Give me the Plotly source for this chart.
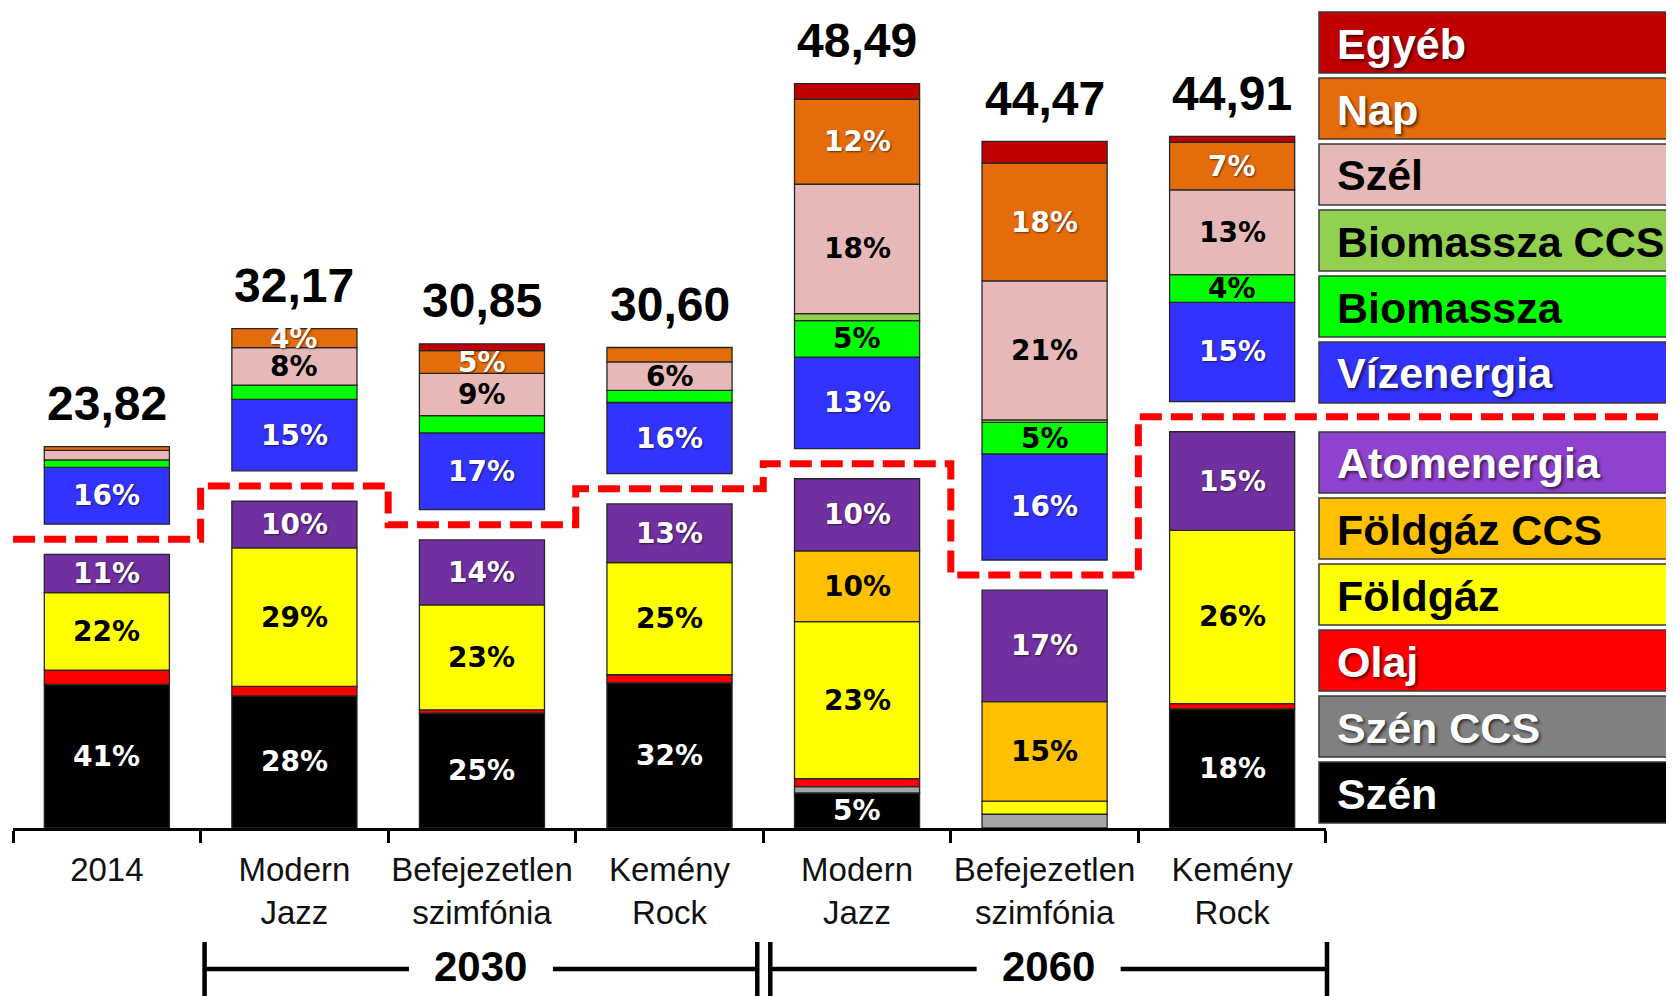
import plotly.graph_objects as go

# ---------------- data ----------------
categories = ["2014", "Modern<br>Jazz", "Befejezetlen<br>szimfónia", "Kemény<br>Rock",
              "Modern<br>Jazz", "Befejezetlen<br>szimfónia", "Kemény<br>Rock"]
totals = [23.82, 32.17, 30.85, 30.60, 48.49, 44.47, 44.91]
period_labels = ["2030", "2060"]

# shares of each bar total, in % (as drawn)
szen          = [40.9, 27.9, 25.3, 32.2, 4.9, 0.0, 18.0]
szen_ccs      = [0.0, 0.0, 0.0, 0.0, 0.9, 2.1, 0.0]
olaj          = [4.1, 2.0, 0.7, 1.8, 1.1, 0.0, 0.8]
foldgaz       = [22.1, 29.2, 23.1, 24.9, 22.0, 2.0, 26.2]
foldgaz_ccs   = [0.0, 0.0, 0.0, 0.0, 9.9, 15.2, 0.0]
atomenergia   = [10.9, 9.9, 14.3, 13.0, 10.1, 17.0, 14.9]
vizenergia    = [16.2, 15.1, 16.9, 15.8, 12.8, 16.2, 15.0]
biomassza     = [2.1, 3.0, 3.8, 2.7, 5.1, 4.8, 4.2]
biomassza_ccs = [0.0, 0.0, 0.0, 0.0, 1.0, 0.4, 0.0]
szel          = [2.7, 7.9, 9.3, 6.3, 18.1, 21.2, 12.8]
nap           = [1.1, 4.0, 5.0, 3.2, 11.9, 18.0, 7.2]
egyeb         = [0.0, 0.0, 1.5, 0.0, 2.2, 3.3, 0.9]

# printed percentage labels
szen_lbl        = ["41%", "28%", "25%", "32%", "5%", "", "18%"]
foldgaz_lbl     = ["22%", "29%", "23%", "25%", "23%", "", "26%"]
foldgaz_ccs_lbl = ["", "", "", "", "10%", "15%", ""]
atom_lbl        = ["11%", "10%", "14%", "13%", "10%", "17%", "15%"]
viz_lbl         = ["16%", "15%", "17%", "16%", "13%", "16%", "15%"]
biomassza_lbl   = ["", "", "", "", "5%", "5%", "4%"]
szel_lbl        = ["", "8%", "9%", "6%", "18%", "21%", "13%"]
nap_lbl         = ["", "4%", "5%", "", "12%", "18%", "7%"]
empty_lbl       = [""] * 7

# stacking order bottom -> top (lower block, then upper block)
lower_series = [
    ("Szén", szen, szen_lbl),
    ("Szén CCS", szen_ccs, empty_lbl),
    ("Olaj", olaj, empty_lbl),
    ("Földgáz", foldgaz, foldgaz_lbl),
    ("Földgáz CCS", foldgaz_ccs, foldgaz_ccs_lbl),
    ("Atomenergia", atomenergia, atom_lbl),
]
upper_series = [
    ("Vízenergia", vizenergia, viz_lbl),
    ("Biomassza", biomassza, biomassza_lbl),
    ("Biomassza CCS", biomassza_ccs, empty_lbl),
    ("Szél", szel, szel_lbl),
    ("Nap", nap, nap_lbl),
    ("Egyéb", egyeb, empty_lbl),
]

# ---------------- styles ----------------
bar_colors = {
    "Szén": "#000000", "Szén CCS": "#A6A6A6", "Olaj": "#FF0000", "Földgáz": "#FFFF00",
    "Földgáz CCS": "#FFC000", "Atomenergia": "#7030A0", "Vízenergia": "#3333FF",
    "Biomassza": "#00FF00", "Biomassza CCS": "#92D050", "Szél": "#E6B9B8",
    "Nap": "#E46C0A", "Egyéb": "#C00000",
}
legend_colors = dict(bar_colors)
legend_colors.update({"Atomenergia": "#8E42CF", "Szén CCS": "#808080"})
white_text = {"Szén", "Szén CCS", "Olaj", "Atomenergia", "Vízenergia", "Nap", "Egyéb"}

W, H = 1674, 996
OFF = 8                      # page offset of the figure inside the browser page
AX_LEFT, AX_RIGHT, AX_BOTTOM = 13, 1326, 828   # target page pixels of the plot area
ML = AX_LEFT - OFF
MR = W - (AX_RIGHT - OFF)
MT = 0
MB = H - (AX_BOTTOM - OFF)
PLOT_W = W - ML - MR
PLOT_H = H - MT - MB
PX_PER_UNIT = 14.73
GAP = 2.05
YMAX = PLOT_H / PX_PER_UNIT

PCT_FONT = "DejaVu Sans, Verdana, sans-serif"
BOLD_FONT = "Liberation Sans, Arial, sans-serif"
NARROW_FONT = "Liberation Sans Narrow, Arial Narrow, Liberation Sans, Arial, sans-serif"
SHADOW = "1px 1px 2px rgba(0,0,0,0.55)"


def pxx(px):
    """page pixel x -> paper x"""
    return (px - OFF - ML) / PLOT_W


def pxy(py):
    """page pixel y -> paper y"""
    return (H - MB - (py - OFF)) / PLOT_H


n = len(categories)
xs = list(range(n))
fig = go.Figure()
annotations = []
shapes = []

cum = [0.0] * n
lower_tot = None
for block_idx, block in enumerate([lower_series, upper_series]):
    if block_idx == 1:
        lower_tot = cum[:]
        cum = [c + GAP for c in cum]
    for name, shares, labels in block:
        vals = [shares[i] * totals[i] / 100.0 for i in range(n)]
        fig.add_trace(go.Bar(
            x=xs, y=[v if v > 0 else None for v in vals], base=cum[:],
            width=0.667, name=name, showlegend=False,
            marker=dict(color=bar_colors[name], line=dict(color="#262626", width=1.3)),
            hoverinfo="skip",
        ))
        for i in range(n):
            if labels[i]:
                is_white = name in white_text
                annotations.append(dict(
                    x=i, y=cum[i] + vals[i] / 2, xref="x", yref="y", text="<b>%s</b>" % labels[i],
                    showarrow=False, xanchor="center", yanchor="middle",
                    font=dict(family=PCT_FONT, size=28, color="white" if is_white else "black",
                              shadow=SHADOW if is_white else "none"),
                ))
        cum = [cum[i] + vals[i] for i in range(n)]

# totals above the bars
for i in range(n):
    annotations.append(dict(
        x=i, y=cum[i], xref="x", yref="y", yshift=43,
        text="<b>%s</b>" % ("%.2f" % totals[i]).replace(".", ","),
        showarrow=False, xanchor="center", yanchor="middle",
        font=dict(family=BOLD_FONT, size=48, color="black"),
    ))

# red dashed step line through the gaps
mids = [lower_tot[i] + GAP / 2 for i in range(n)]
fig.add_trace(go.Scatter(
    x=[i - 0.5 for i in range(n + 1)], y=mids + [mids[-1]], mode="lines",
    line=dict(color="#FF0000", width=7, dash="22px,9px", shape="hv"),
    showlegend=False, hoverinfo="skip",
))
shapes.append(dict(type="line", xref="paper", yref="y", x0=1.0, x1=pxx(W + 20),
                   y0=mids[-1], y1=mids[-1],
                   line=dict(color="#FF0000", width=7, dash="22px,9px")))

# legend boxes on the right
LEG_LEFT, LEG_TEXT_X, LEG_H, LEG_PITCH = 1319, 1335, 61, 66
for top0, block in [(12, upper_series), (432, lower_series)]:
    for k, (name, _, _) in enumerate(reversed(block)):
        top = top0 + k * LEG_PITCH
        shapes.append(dict(type="rect", xref="paper", yref="paper",
                           x0=pxx(LEG_LEFT), x1=pxx(W + 30), y0=pxy(top + LEG_H), y1=pxy(top),
                           fillcolor=legend_colors[name], line=dict(color="#3A3A3A", width=1.5)))
        is_white = name in white_text
        annotations.append(dict(
            x=pxx(LEG_TEXT_X), y=pxy(top + LEG_H / 2 + 1), xref="paper", yref="paper",
            text="<b>%s</b>" % name, showarrow=False, xanchor="left", yanchor="middle",
            font=dict(family=BOLD_FONT, size=43, color="white" if is_white else "black",
                      shadow="2px 2px 3px rgba(0,0,0,0.6)" if is_white else "none"),
        ))

# period brackets under the axis
BR_Y, BR_TOP, BR_BOT = 969, 942, 1010
for (d0, d1, inset0, inset1), label in zip([(0.5, 3.5, 4, -6), (3.5, 6.5, 7, 1)], period_labels):
    xa = pxx(AX_LEFT + (d0 + 0.5) * PLOT_W / n + inset0)
    xb = pxx(AX_LEFT + (d1 + 0.5) * PLOT_W / n + inset1)
    xc = (xa + xb) / 2
    half_gap = 72 / PLOT_W
    lw = dict(color="black", width=4.5)
    for xv in (xa, xb):
        shapes.append(dict(type="line", xref="paper", yref="paper", x0=xv, x1=xv,
                           y0=pxy(BR_TOP), y1=pxy(BR_BOT), line=lw))
    shapes.append(dict(type="line", xref="paper", yref="paper", x0=xa, x1=xc - half_gap,
                       y0=pxy(BR_Y), y1=pxy(BR_Y), line=lw))
    shapes.append(dict(type="line", xref="paper", yref="paper", x0=xc + half_gap, x1=xb,
                       y0=pxy(BR_Y), y1=pxy(BR_Y), line=lw))
    annotations.append(dict(x=xc, y=pxy(BR_Y - 2), xref="paper", yref="paper",
                            text="<b>%s</b>" % label, showarrow=False,
                            xanchor="center", yanchor="middle",
                            font=dict(family=NARROW_FONT, size=42, color="black")))

fig.update_layout(
    width=W, height=H, barmode="overlay",
    margin=dict(l=ML, r=MR, t=MT, b=MB, pad=0),
    paper_bgcolor="white", plot_bgcolor="white",
    xaxis=dict(
        range=[-0.5005, 6.5005], tickmode="array", tickvals=xs, ticktext=categories,
        ticks="", showgrid=False, zeroline=False, showline=True, linewidth=3, linecolor="black",
        ticklabelstandoff=10,
        tickfont=dict(family=NARROW_FONT, size=33, color="#111111"),
        minor=dict(tick0=0.5, dtick=1, ticks="outside", ticklen=12, tickwidth=3,
                   tickcolor="black", showgrid=False),
    ),
    yaxis=dict(range=[0, YMAX], visible=False, showgrid=False, zeroline=False),
    annotations=annotations, shapes=shapes,
)

fig.write_html("out.html")
